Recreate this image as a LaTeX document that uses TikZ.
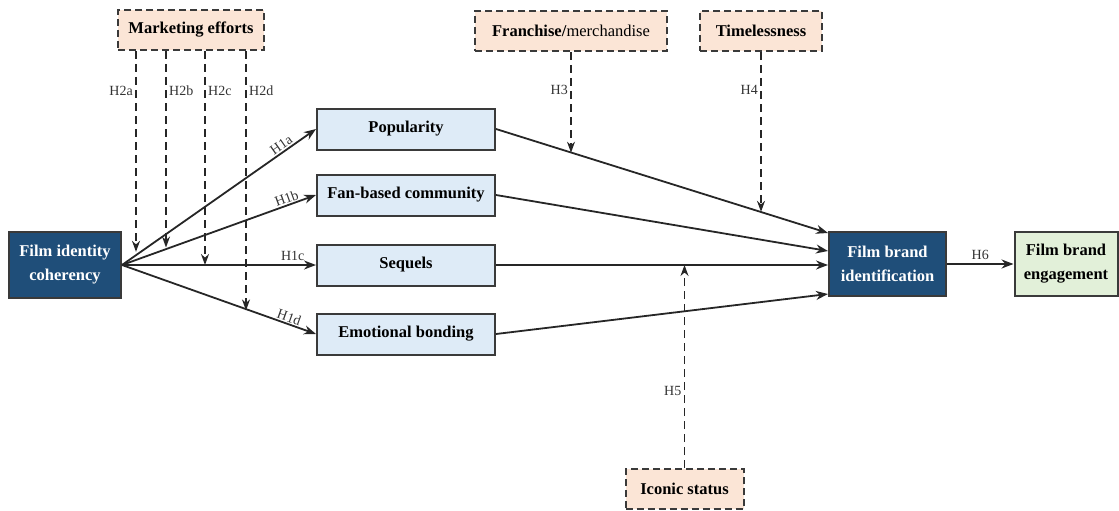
\documentclass[tikz,border=0pt]{standalone}
\usepackage{fontspec}
\setmainfont{Liberation Serif}
\usetikzlibrary{arrows.meta,calc}
\definecolor{dblue}{HTML}{1F4E79}
\definecolor{lblue}{HTML}{DEEBF7}
\definecolor{lgreen}{HTML}{E2F0D9}
\definecolor{peach}{HTML}{FBE5D6}
\definecolor{edgec}{HTML}{3A3A3A}
\definecolor{labc}{HTML}{333333}
\begin{document}
\begin{tikzpicture}[x=1pt,y=-1pt,
  box/.style={draw=edgec, line width=2pt, inner sep=0pt, align=center,
    font=\fontsize{16.5}{24}\selectfont\bfseries},
  darkbox/.style={box, fill=dblue, text=white},
  medbox/.style={box, fill=lblue, minimum width=178pt, minimum height=41pt},
  greenbox/.style={box, fill=lgreen},
  modbox/.style={box, fill=peach, dash pattern=on 7pt off 4pt, minimum height=40pt},
  arr/.style={draw=black!85, line width=1.8pt, -{Stealth[length=12pt,width=9pt]}},
  modarr/.style={draw=black!85, line width=1.5pt, dash pattern=on 8pt off 5pt,
    -{Stealth[length=11pt,width=8pt]}},
  lab/.style={font=\fontsize{14}{16}\selectfont, text=labc, inner sep=3pt}
]
\useasboundingbox (0,0) rectangle (1119,511);

% nodes
\node[darkbox, minimum width=112pt, minimum height=66pt] (fic) at (65,265) {Film identity\\coherency};
\node[medbox] (pop) at (406,129) {Popularity};
\node[medbox] (fan) at (406,195) {Fan-based community};
\node[medbox] (seq) at (406,265) {Sequels};
\node[medbox] (emo) at (406,334) {Emotional bonding};
\node[darkbox, minimum width=117pt, minimum height=64pt] (fbi) at (887.5,264) {Film brand\\identification};
\node[greenbox, minimum width=103pt, minimum height=64pt] (fbe) at (1066,264) {Film brand\\engagement};
\node[modbox, minimum width=146pt] (me) at (191,30) {Marketing efforts};
\node[modbox, minimum width=192pt, font=\fontsize{16.5}{24}\selectfont] (fm) at (571,31) {\textbf{Franchise/}merchandise};
\node[modbox, minimum width=122pt] (tl) at (761,31) {Timelessness};
\node[modbox, minimum width=118pt] (is) at (684.5,489) {Iconic status};

% H1 paths
\draw[arr] (fic.east) -- node[lab, pos=0.84, sloped, above, inner sep=1pt] {H1a} (pop.west);
\draw[arr] (fic.east) -- node[lab, pos=0.86, sloped, above, inner sep=1pt] {H1b} (fan.west);
\draw[arr] (fic.east) -- node[lab, pos=0.88, above] {H1c} (seq.west);
\draw[arr] (fic.east) -- node[lab, pos=0.85, sloped, above, inner sep=1pt] {H1d} (emo.west);

% targets on Film brand identification
\coordinate (t1) at ($(fbi.west)+(0,-31)$);
\coordinate (t2) at ($(fbi.west)+(0,-13)$);
\coordinate (t3) at (fbi.west |- seq.east);
\coordinate (t4) at ($(fbi.west)+(0,30)$);
\draw[arr] (pop.east) -- (t1);
\draw[arr] (fan.east) -- (t2);
\draw[arr] (seq.east) -- (t3);
\draw[arr] (emo.east) -- (t4);
\draw[arr] (fbi.east) -- node[lab, above] {H6} (fbe.west);

% marketing efforts moderations
\coordinate (m1) at ($(me.south west)+(19,0)$);
\coordinate (m2) at ($(me.south west)+(49,0)$);
\coordinate (m3) at ($(me.south west)+(88,0)$);
\coordinate (m4) at ($(me.south west)+(129,0)$);
\coordinate (p1) at ($(fic.east)!{19/196}!(pop.west)$);
\coordinate (p2) at ($(fic.east)!{49/196}!(fan.west)$);
\coordinate (p3) at ($(fic.east)!{88/196}!(seq.west)$);
\coordinate (p4) at ($(fic.east)!{129/196}!(emo.west)$);
\draw[modarr] (m1) -- (m1 |- p1);
\draw[modarr] (m2) -- (m2 |- p2);
\draw[modarr] (m3) -- (m3 |- p3);
\draw[modarr] (m4) -- (m4 |- p4);
\node[lab, anchor=east] at ($(m1)+(0,40)$) {H2a};
\node[lab, anchor=west] at ($(m2)+(0,40)$) {H2b};
\node[lab, anchor=west] at ($(m3)+(0,40)$) {H2c};
\node[lab, anchor=west] at ($(m4)+(0,40)$) {H2d};

% other moderators
\coordinate (q3) at ($(pop.east)!{(571-495)/334}!(t1)$);
\coordinate (q4) at ($(pop.east)!{(761-495)/334}!(t1)$);
\draw[modarr] (fm.south) -- (fm.south |- q3);
\draw[modarr] (tl.south) -- (tl.south |- q4);
\draw[modarr] (is.north) -- (is.north |- seq.east);
\node[lab, anchor=east] at ($(fm.south)+(0,38)$) {H3};
\node[lab, anchor=east] at ($(tl.south)+(0,38)$) {H4};
\node[lab, anchor=east] at ($(is.north)+(0,-77)$) {H5};
\end{tikzpicture}
\end{document}
